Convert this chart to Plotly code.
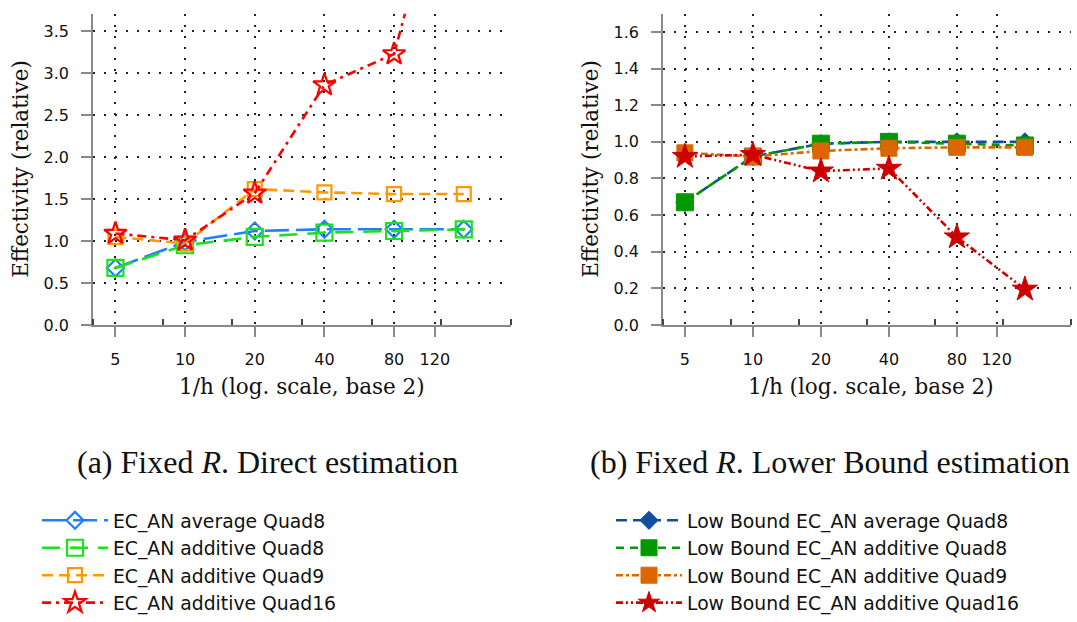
import plotly.graph_objects as go
import math

W, H = 1077, 622

# ---------------- data ----------------
inv_h = [5, 10, 20, 40, 80, 160]

# (a) direct estimation
direct_avg_q8 = [0.68, 0.99, 1.12, 1.14, 1.14, 1.14]
direct_add_q8 = [0.68, 0.95, 1.05, 1.10, 1.12, 1.14]
direct_add_q9 = [1.05, 0.97, 1.62, 1.58, 1.56, 1.56]
direct_add_q16 = [1.09, 1.01, 1.57, 2.86, 3.23, 6.3]

# (b) lower bound estimation
lb_avg_q8 = [0.67, 0.92, 0.99, 1.00, 1.00, 1.00]
lb_add_q8 = [0.67, 0.92, 0.99, 1.00, 0.99, 0.98]
lb_add_q9 = [0.94, 0.92, 0.95, 0.965, 0.97, 0.97]
lb_add_q16 = [0.92, 0.93, 0.84, 0.855, 0.48, 0.195]

x_tickvals = [5, 10, 20, 40, 80, 120]
x_ticktext = ["5", "10", "20", "40", "80", "120"]
x_minor = [4, 8, 16, 32, 64, 128, 256]

left_yticks = [0.0, 0.5, 1.0, 1.5, 2.0, 2.5, 3.0, 3.5]
right_yticks = [0.0, 0.2, 0.4, 0.6, 0.8, 1.0, 1.2, 1.4, 1.6]

left_names = ["EC_AN average Quad8", "EC_AN additive Quad8",
              "EC_AN additive Quad9", "EC_AN additive Quad16"]
right_names = ["Low Bound EC_AN average Quad8", "Low Bound EC_AN additive Quad8",
               "Low Bound EC_AN additive Quad9", "Low Bound EC_AN additive Quad16"]

# ---------------- styles ----------------
left_series = [direct_avg_q8, direct_add_q8, direct_add_q9, direct_add_q16]
left_colors = ["#1f7fff", "#1fe01f", "#ff9900", "#ff0000"]
left_dash = ["24px,7px", "18px,10px", "11px,6px", "9px,5px,3px,5px"]
left_sym = ["diamond-open", "square-open-dot", "square-open", "star-open"]
left_size = [13, 16, 14, 17]

right_series = [lb_avg_q8, lb_add_q8, lb_add_q9, lb_add_q16]
right_colors = ["#0f4f9f", "#009a00", "#dd6600", "#cc0000"]
right_dash = ["11px,6px", "8px,6px", "7px,3px,3px,3px", "7px,3px,2px,3px,2px,3px"]
right_sym = ["diamond", "square", "square", "star"]
right_size = [14, 17, 16, 19]

fig = go.Figure()

for ys, c, d, s, sz, n in zip(left_series, left_colors, left_dash, left_sym, left_size, left_names):
    fig.add_trace(go.Scatter(
        x=inv_h, y=ys, name=n, mode="lines+markers",
        line=dict(color=c, width=2.6, dash=d),
        marker=dict(symbol=s, size=sz, color=c, line=dict(color=c, width=2.2)),
        xaxis="x", yaxis="y", legend="legend"))

for ys, c, d, s, sz, n in zip(right_series, right_colors, right_dash, right_sym, right_size, right_names):
    fig.add_trace(go.Scatter(
        x=inv_h, y=ys, name=n, mode="lines+markers",
        line=dict(color=c, width=2.6, dash=d),
        marker=dict(symbol=s, size=sz, color=c, line=dict(color=c, width=1)),
        xaxis="x2", yaxis="y2", legend="legend2"))

grid = dict(showgrid=True, gridcolor="#222222", gridwidth=2, griddash="2px,9px")
tickfont = dict(family="DejaVu Sans", size=16, color="#111111")


def xaxis_cfg(domain, anchor):
    return dict(
        type="log", domain=domain, anchor=anchor,
        range=[math.log10(4), math.log10(256)],
        tickmode="array", tickvals=x_tickvals, ticktext=x_ticktext,
        ticks="outside", ticklen=10, tickwidth=1.5, tickcolor="#8a8a8a",
        showline=True, linecolor="#8a8a8a", linewidth=1.5,
        zeroline=False, tickfont=tickfont, ticklabelstandoff=9,
        minor=dict(tickmode="array", tickvals=x_minor, ticks="inside",
                   ticklen=6, tickwidth=1.5, tickcolor="#444444", showgrid=False),
        **grid)


def yaxis_cfg(domain, anchor, rng, tv):
    return dict(
        domain=domain, anchor=anchor, range=rng,
        tickmode="array", tickvals=tv, ticktext=[f"{v:.1f}" for v in tv],
        ticks="outside", ticklen=10, tickwidth=1.5, tickcolor="#8a8a8a",
        showline=True, linecolor="#8a8a8a", linewidth=1.5,
        zeroline=False, tickfont=tickfont, ticklabelstandoff=9,
        **grid)


legend_font = dict(family="DejaVu Sans", size=18.8, color="#111111")
ydom = [1 - 333 / H, 1 - 14 / H]
fig.update_layout(
    width=W, height=H,
    margin=dict(l=0, r=0, t=0, b=0),
    paper_bgcolor="white", plot_bgcolor="white",
    xaxis=xaxis_cfg([93 / W, 511 / W], "y"),
    yaxis=yaxis_cfg(ydom, "x", [0, 3.71], left_yticks),
    xaxis2=xaxis_cfg([663 / W, 1071 / W], "y2"),
    yaxis2=yaxis_cfg(ydom, "x2", [0, 1.70], right_yticks),
    legend=dict(x=37 / W, y=1 - 514 / H, xanchor="left", yanchor="top",
                font=legend_font, itemwidth=66, bgcolor="rgba(0,0,0,0)", tracegroupgap=0),
    legend2=dict(x=611 / W, y=1 - 514 / H, xanchor="left", yanchor="top",
                 font=legend_font, itemwidth=66, bgcolor="rgba(0,0,0,0)", tracegroupgap=0),
    showlegend=True,
)

xtitle_font = dict(family="DejaVu Serif", size=21.5, color="#111111")
ytitle_font = dict(family="DejaVu Serif", size=21.5, color="#111111")
cap = dict(family="Liberation Serif", size=32, color="#111111")
annots = [
    dict(text="1/h (log. scale, base 2)", x=302 / W, y=1 - 396 / H, font=xtitle_font),
    dict(text="1/h (log. scale, base 2)", x=871 / W, y=1 - 396 / H, font=xtitle_font),
    dict(text="Effectivity (relative)", x=21 / W, y=1 - 173 / H, font=ytitle_font, textangle=-90),
    dict(text="Effectivity (relative)", x=591 / W, y=1 - 173 / H, font=ytitle_font, textangle=-90),
    dict(text="(a) Fixed <i>R</i>. Direct estimation", x=267 / W, y=1 - 473 / H, font=cap),
    dict(text="(b) Fixed <i>R</i>. Lower Bound estimation", x=830 / W, y=1 - 473 / H, font=cap),
]
for a in annots:
    fig.add_annotation(xref="paper", yref="paper", xanchor="center", yanchor="middle",
                       showarrow=False, **a)

fig.write_html("out.html")
